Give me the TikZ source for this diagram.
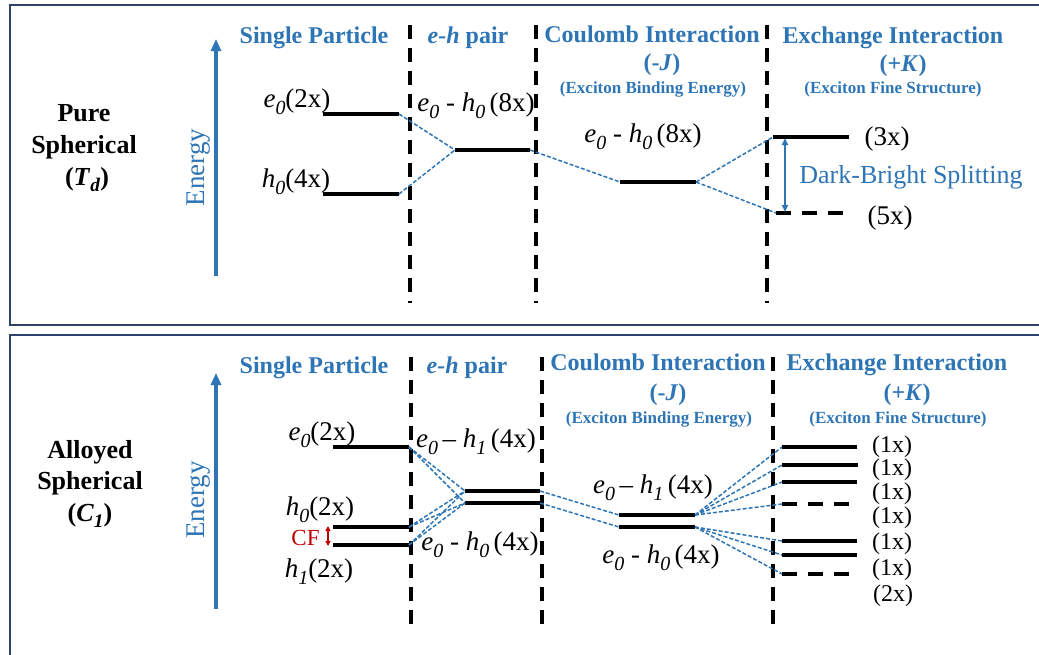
\documentclass[tikz,border=0pt]{standalone}
\usepackage{fontspec}
\setmainfont{Liberation Serif}
\usetikzlibrary{arrows.meta}
\definecolor{hdrblue}{HTML}{2E75B6}
\definecolor{framecol}{HTML}{2F426A}
\definecolor{cfred}{HTML}{C00000}
% italic subscript, set large and well below the baseline
\newcommand{\lsub}[1]{\raisebox{-0.26em}{\scalebox{0.74}{\textit{#1}}}}
\newcommand{\fs}[1]{\fontsize{#1}{#1}\selectfont}

\begin{document}
\begin{tikzpicture}[x=1pt,y=-1pt,
  panel/.style={draw=framecol,line width=2.4pt},
  level/.style={line width=3.2pt,black},
  dlevel/.style={level,dash pattern=on 15pt off 11pt},
  divider/.style={line width=3.2pt,black,dash pattern=on 14pt off 9pt},
  link/.style={hdrblue,line width=1.5pt,dash pattern=on 4pt off 2pt},
  head/.style={text=hdrblue,font=\fs{24}\bfseries,anchor=base,inner sep=0pt},
  subhead/.style={text=hdrblue,font=\fs{17}\bfseries,anchor=base,inner sep=0pt},
  lab/.style={font=\fs{27},anchor=base,inner sep=0pt},
  deg/.style={font=\fs{24},inner sep=0pt},
  sym/.style={font=\fs{26}\bfseries,anchor=base,inner sep=0pt},
  energy/.style={hdrblue,line width=3.4pt,-{Triangle[length=12pt,width=10pt]}},
  elabel/.style={text=hdrblue,font=\fs{27},rotate=90,anchor=base,inner sep=0pt}
]
\useasboundingbox (0,0) rectangle (1039,654);

% ---------- frames ----------
\draw[panel] (1060,5) -- (10,5) -- (10,325) -- (1060,325);
\draw[panel] (1060,335) -- (10,335) -- (10,670);

% =================== upper panel: pure spherical ===================
\node[sym] (tP1) at (84,121) {Pure};
\node[sym] (tP2) at (84,153) {Spherical};
\node[sym] (tP3) at (87,185) {(\textit{T}\lsub{d})};

\coordinate (tEa) at (216,276);
\coordinate (tEb) at (216,39);
\draw[energy] (tEa) -- (tEb);
\node[elabel] (tEn) at (204,167.5) {Energy};

\node[head] (tH1) at (314,43) {Single Particle};
\node[head] (tH2) at (468,43) {\textit{e-h} pair};
\node[head] (tH3) at (652,42) {Coulomb Interaction};
\node[head] (tH3b) at (662,70) {(-\textit{J})};
\node[subhead] (tH3c) at (653,93) {(Exciton Binding Energy)};
\node[head] (tH4) at (893,43) {Exchange Interaction};
\node[head] (tH4b) at (903,71) {(+\textit{K})};
\node[subhead] (tH4c) at (893,93) {(Exciton Fine Structure)};

\coordinate (tD1a) at (410,25); \coordinate (tD1b) at (410,303);
\coordinate (tD2a) at (536,25); \coordinate (tD2b) at (536,303);
\coordinate (tD3a) at (767,25); \coordinate (tD3b) at (767,303);
\draw[divider] (tD1a) -- (tD1b);
\draw[divider] (tD2a) -- (tD2b);
\draw[divider] (tD3a) -- (tD3b);

% levels
\coordinate (te0L) at (323,114); \coordinate (te0R) at (399,114);
\coordinate (th0L) at (323,194); \coordinate (th0R) at (399,194);
\coordinate (tpL) at (455,150);  \coordinate (tpR) at (530,150);
\coordinate (tcL) at (620,182);  \coordinate (tcR) at (696,182);
\coordinate (t3L) at (773,137);  \coordinate (t3R) at (849,137);
\coordinate (t5L) at (776,213);  \coordinate (t5R) at (843,213);
\draw[level] (te0L) -- (te0R);
\draw[level] (th0L) -- (th0R);
\draw[level] (tpL) -- (tpR);
\draw[level] (tcL) -- (tcR);
\draw[level] (t3L) -- (t3R);
\draw[dlevel] (t5L) -- (t5R);

\draw[link] (te0R) -- (tpL);
\draw[link] (th0R) -- (tpL);
\draw[link] (tpR) -- (tcL);
\draw[link] (tcR) -- (t3L);
\draw[link] (tcR) -- (t5L);

\node[lab] (te0t) at (297,107) {\textit{e}\lsub{0}(2x)};
\node[lab] (th0t) at (296,187) {\textit{h}\lsub{0}(4x)};
\node[lab] (tpt) at (476,111) {\textit{e}\lsub{0} - \textit{h}\lsub{0}\,(8x)};
\node[lab] (tct) at (643,142) {\textit{e}\lsub{0} - \textit{h}\lsub{0}\,(8x)};
\node[lab] (t3t) at (887,145) {(3x)};
\node[lab] (t5t) at (890,224) {(5x)};

\coordinate (tSa) at (785,138); \coordinate (tSb) at (785,212);
\draw[hdrblue,line width=1.8pt,{Triangle[length=7pt,width=6pt]}-{Triangle[length=7pt,width=6pt]}] (tSa) -- (tSb);
\node[lab,text=hdrblue,font=\fs{26}] (tSt) at (911,183) {Dark-Bright Splitting};

% =================== lower panel: alloyed spherical ===================
\node[sym] (bP1) at (90,458) {Alloyed};
\node[sym] (bP2) at (90,489) {Spherical};
\node[sym] (bP3) at (90,521) {(\textit{C}\lsub{1})};

\coordinate (bEa) at (216,609);
\coordinate (bEb) at (216,373);
\draw[energy] (bEa) -- (bEb);
\node[elabel] (bEn) at (204,500) {Energy};

\node[head] (bH1) at (314,373) {Single Particle};
\node[head] (bH2) at (467,373) {\textit{e-h} pair};
\node[head] (bH3) at (658,370) {Coulomb Interaction};
\node[head] (bH3b) at (668,400) {(-\textit{J})};
\node[subhead] (bH3c) at (659,423) {(Exciton Binding Energy)};
\node[head] (bH4) at (897,370) {Exchange Interaction};
\node[head] (bH4b) at (907,400) {(+\textit{K})};
\node[subhead] (bH4c) at (898,423) {(Exciton Fine Structure)};

\coordinate (bD1a) at (411,357); \coordinate (bD1b) at (411,633);
\coordinate (bD2a) at (542,357); \coordinate (bD2b) at (542,633);
\coordinate (bD3a) at (773,357); \coordinate (bD3b) at (773,633);
\draw[divider] (bD1a) -- (bD1b);
\draw[divider] (bD2a) -- (bD2b);
\draw[divider] (bD3a) -- (bD3b);

% single-particle levels
\coordinate (be0L) at (333,447); \coordinate (be0R) at (409,447);
\coordinate (bh0L) at (333,527); \coordinate (bh0R) at (409,527);
\coordinate (bh1L) at (333,545); \coordinate (bh1R) at (409,545);
% e-h pair levels
\coordinate (bpUL) at (465,491); \coordinate (bpUR) at (540,491);
\coordinate (bpLL) at (465,503); \coordinate (bpLR) at (540,503);
% Coulomb levels
\coordinate (bcUL) at (619,515); \coordinate (bcUR) at (695,515);
\coordinate (bcLL) at (619,527); \coordinate (bcLR) at (695,527);
% exchange-split levels
\coordinate (bx1L) at (782,447); \coordinate (bx1R) at (857,447);
\coordinate (bx2L) at (782,465); \coordinate (bx2R) at (858,465);
\coordinate (bx3L) at (782,482); \coordinate (bx3R) at (857,482);
\coordinate (bx4L) at (782,504); \coordinate (bx4R) at (849,504);
\coordinate (bx5L) at (782,541); \coordinate (bx5R) at (857,541);
\coordinate (bx6L) at (782,555); \coordinate (bx6R) at (857,555);
\coordinate (bx7L) at (782,574); \coordinate (bx7R) at (849,574);

\draw[level] (be0L) -- (be0R);
\draw[level] (bh0L) -- (bh0R);
\draw[level] (bh1L) -- (bh1R);
\draw[level] (bpUL) -- (bpUR);
\draw[level] (bpLL) -- (bpLR);
\draw[level] (bcUL) -- (bcUR);
\draw[level] (bcLL) -- (bcLR);
\draw[level] (bx1L) -- (bx1R);
\draw[level] (bx2L) -- (bx2R);
\draw[level] (bx3L) -- (bx3R);
\draw[dlevel] (bx4L) -- (bx4R);
\draw[level] (bx5L) -- (bx5R);
\draw[level] (bx6L) -- (bx6R);
\draw[dlevel] (bx7L) -- (bx7R);

\draw[link] (be0R) -- (bpUL);
\draw[link] (be0R) -- (bpLL);
\draw[link] (bh0R) -- (bpUL);
\draw[link] (bh0R) -- (bpLL);
\draw[link] (bh1R) -- (bpUL);
\draw[link] (bh1R) -- (bpLL);
\draw[link] (bpUR) -- (bcUL);
\draw[link] (bpLR) -- (bcLL);
\draw[link] (bcUR) -- (bx1L);
\draw[link] (bcUR) -- (bx2L);
\draw[link] (bcUR) -- (bx3L);
\draw[link] (bcUR) -- (bx4L);
\draw[link] (bcLR) -- (bx5L);
\draw[link] (bcLR) -- (bx6L);
\draw[link] (bcLR) -- (bx7L);

\node[lab] (be0t) at (322,440) {\textit{e}\lsub{0}(2x)};
\node[lab] (bh0t) at (320,515) {\textit{h}\lsub{0}(2x)};
\node[lab] (bh1t) at (319,577) {\textit{h}\lsub{1}(2x)};
\node[lab,text=cfred,font=\fs{23}] (bcf) at (305.5,545) {CF};
\coordinate (bCFa) at (328,526); \coordinate (bCFb) at (328,546);
\draw[cfred,line width=1.3pt,{Triangle[length=5pt,width=5pt]}-{Triangle[length=5pt,width=5pt]}] (bCFa) -- (bCFb);

\node[lab] (bpUt) at (476,447) {\textit{e}\lsub{0}\,– \textit{h}\lsub{1}\,(4x)};
\node[lab] (bpLt) at (480,550) {\textit{e}\lsub{0} - \textit{h}\lsub{0}\,(4x)};
\node[lab] (bcUt) at (653,493) {\textit{e}\lsub{0}\,– \textit{h}\lsub{1}\,(4x)};
\node[lab] (bcLt) at (661,563) {\textit{e}\lsub{0} - \textit{h}\lsub{0}\,(4x)};

\node[deg] (bx1t) at (892,447) {(1x)};
\node[deg] (bx2t) at (892,470) {(1x)};
\node[deg] (bx3t) at (892,494) {(1x)};
\node[deg] (bx4t) at (892,518) {(1x)};
\node[deg] (bx5t) at (892,544) {(1x)};
\node[deg] (bx6t) at (892,570) {(1x)};
\node[deg] (bx7t) at (893,596) {(2x)};
\end{tikzpicture}
\end{document}
